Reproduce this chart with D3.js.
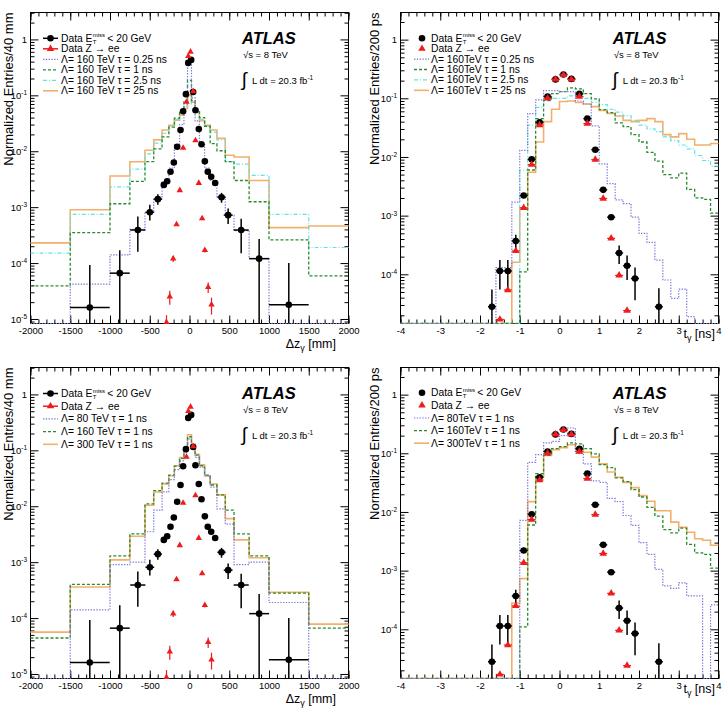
<!DOCTYPE html>
<html>
<head>
<meta charset="utf-8">
<script src="https://cdn.jsdelivr.net/npm/d3@7"></script>
<style>
body { margin: 0; background: #fff; }
svg text { font-family: "Liberation Sans", Arial, Helvetica, sans-serif; }
</style>
</head>
<body>
<script>
// ---- delta z panels (variable bins, mm) ----
var dzEdges = [-2000,-1500,-1000,-750,-560,-450,-345,-260,-190,-125,-70,-25,25,70,125,190,260,345,450,560,750,1000,1500,2000];

var dzTopBlue   = [0, 4.2e-5, 1.4e-4, 4e-4, 8e-4, 1.4e-3, 2.8e-3, 5e-3, 0.013, 0.03, 0.07, 0.4, 0.09, 0.035, 0.014, 0.005, 0.003, 1.5e-3, 7.2e-4, 3.8e-4, 1.2e-4, 0, 0];
var dzTopGreen  = [3.9e-5, 3.5e-4, 1.15e-3, 2.9e-3, 6.5e-3, 0.011, 0.018, 0.027, 0.039, 0.054, 0.076, 0.185, 0.08, 0.055, 0.04, 0.028, 0.0137, 0.0102, 0.0065, 0.003, 1.25e-3, 2.6e-4, 5.9e-5];
var dzTopCyan   = [1.5e-4, 7.4e-4, 2.3e-3, 4.8e-3, 9e-3, 0.014, 0.021, 0.028, 0.037, 0.05, 0.065, 0.12, 0.07, 0.05, 0.037, 0.028, 0.022, 0.016, 0.0065, 0.0059, 0.0037, 7.4e-4, 1.9e-4];
var dzTopOrange = [2.3e-4, 9e-4, 3.6e-3, 6.5e-3, 0.0104, 0.016, 0.024, 0.029, 0.036, 0.044, 0.058, 0.1, 0.075, 0.05, 0.035, 0.029, 0.024, 0.017, 0.0085, 0.0079, 0.003, 4.3e-4, 4.6e-4];

var dzBotBlue   = [0, 1.4e-4, 9e-4, 1e-3, 3.5e-3, 8.5e-3, 0.018, 0.03, 0.045, 0.065, 0.09, 0.16, 0.12, 0.075, 0.05, 0.035, 0.022, 0.009, 4.8e-3, 9e-4, 1e-3, 1.9e-4, 0];
var dzBotGreen  = [4.4e-5, 4e-4, 1.3e-3, 3.2e-3, 0.011, 0.019, 0.026, 0.036, 0.052, 0.072, 0.1, 0.175, 0.125, 0.082, 0.053, 0.036, 0.024, 0.016, 0.0085, 3.2e-3, 1.3e-3, 2.8e-4, 6.6e-5];
var dzBotOrange = [5.6e-5, 3.6e-4, 1.1e-3, 2.9e-3, 0.0104, 0.018, 0.025, 0.035, 0.053, 0.074, 0.105, 0.19, 0.13, 0.085, 0.055, 0.035, 0.025, 0.016, 0.006, 2.5e-3, 1.2e-3, 2.9e-4, 7.8e-5];

// data, Etmiss < 20 GeV
var dzDataX   = [-1254,-877,-650,-499,-398,-323,-281,-239,-197,-155,-113,-80,-45,-16,21,46,75,117,151,193,230,273,323,403,486,650,876,1249];
var dzDataY   = [1.6e-5,6.6e-5,3.9e-4,8.1e-4,1.39e-3,2.5e-3,2.9e-3,4.3e-3,6.3e-3,0.012,0.024,0.052,0.105,0.38,0.43,0.115,0.054,0.025,0.0133,0.0066,0.0043,0.0035,0.0027,1.5e-3,7.2e-4,3.9e-4,1.2e-4,1.8e-5];
var dzDataUp  = [7.6e-5,1.04e-4,2.9e-4,2.9e-4,3.1e-4,2e-4,2e-4,2e-4,2e-4,3e-4,4e-4,6e-4,1e-3,2e-3,2e-3,1e-3,6e-4,4e-4,3e-4,2e-4,2e-4,2e-4,2e-4,3e-4,2.3e-4,2.3e-4,1.5e-4,8.2e-5];
var dzDataDn  = [1.6e-5,6.6e-5,2.3e-4,2.3e-4,2.9e-4,2e-4,2e-4,2e-4,2e-4,3e-4,4e-4,6e-4,1e-3,2e-3,2e-3,1e-3,6e-4,4e-4,3e-4,2e-4,2e-4,2e-4,2e-4,3e-4,2.2e-4,2.4e-4,1.2e-4,1.8e-5];
var dzDataXerr = [250,125,95,55,52,20,20,20,20,20,20,20,20,20,20,20,20,20,20,20,20,20,20,52,55,95,125,250];
// data, Z -> ee
var dzZeeX   = [-289,-248,-205,-163,-122,-80,-38,-15,13,46,75,117,159,193,235,277];
var dzZeeY   = [8.7e-6,2.5e-5,1.2e-4,4.9e-4,2.0e-3,0.0115,0.076,0.5,0.6,0.118,0.0156,0.0027,6.3e-4,1.7e-4,3.7e-5,1.8e-5];
var dzZeeErr = [3e-6,7e-6,1.5e-5,3e-5,8e-5,2e-4,1e-3,5e-3,5e-3,1e-3,2e-4,8e-5,3e-5,1.5e-5,8e-6,6e-6];

// ---- timing panels (200 ps bins from -4 to 4 ns) ----
var tEdges = d3.range(41).map(function(i) { return Math.round((-4 + 0.2 * i) * 10) / 10; });

var tTopBlue   = [0,0,0,0,0,0,0,0,0,0,0,0,1.3e-4,1.3e-4,1.7e-3,0.013,0.055,0.094,0.135,0.135,0.13,0.13,0.09,0.08,0.034,0.0076,3.5e-3,1.85e-3,1.6e-3,9.4e-4,5e-4,3.5e-4,1.75e-4,8e-5,3.9e-5,5.6e-5,1.9e-5,0,0,0];
var tGreen160  = [0,0,0,0,0,0,0,0,0,0,0,0,0,0,0,1.1e-4,6e-3,0.045,0.092,0.12,0.13,0.15,0.145,0.12,0.098,0.064,0.057,0.038,0.033,0.024,0.018,0.012,8.5e-3,5e-3,4.4e-3,5.3e-3,2.8e-3,2e-3,1.9e-3,1.1e-3];
var tTopCyan   = [0,0,0,0,0,0,0,0,0,0,0,0,0,0,0,6e-3,0.035,0.07,0.09,0.1,0.1,0.11,0.11,0.1,0.085,0.078,0.065,0.058,0.05,0.042,0.035,0.03,0.027,0.022,0.019,0.016,0.0137,0.0106,0.0087,0.007];
var tTopOrange = [0,0,0,0,0,0,0,0,0,0,0,0,0,0,1.6e-4,1.3e-3,5.5e-3,0.018,0.04,0.065,0.088,0.09,0.085,0.08,0.072,0.062,0.055,0.05,0.042,0.04,0.042,0.045,0.04,0.024,0.022,0.025,0.02,0.016,0.016,0.017];
var tBotBlue   = [0,0,0,0,0,0,0,0,0,0,0,0,0,0,0,7.2e-3,0.07,0.095,0.15,0.16,0.2,0.27,0.1,0.066,0.034,0.032,0.017,0.015,8.7e-3,5.9e-3,3e-3,1.9e-3,1.05e-3,5.5e-4,5e-4,6.2e-4,3.7e-4,3.7e-4,0,2.6e-4];
var tBotOrange = [0,0,0,0,0,0,0,0,0,0,0,0,0,0,2.8e-4,7.3e-4,0.015,0.04,0.092,0.115,0.125,0.14,0.122,0.104,0.086,0.066,0.048,0.039,0.032,0.026,0.019,0.0152,0.0105,0.0105,0.0067,0.0055,0.0045,0.0035,0.0033,0.0027];

var tDataX  = [-1.7,-1.5,-1.3,-1.1,-0.9,-0.7,-0.5,-0.3,-0.1,0.1,0.3,0.5,0.7,0.9,1.1,1.3,1.5,1.7,1.9,2.5];
var tDataY  = [2.8e-5,1.14e-4,1.14e-4,3.7e-4,2.2e-3,9.1e-3,0.039,0.107,0.21,0.254,0.214,0.119,0.045,0.0133,2.75e-3,9.4e-4,2.3e-4,1.4e-4,8.5e-5,2.8e-5];
var tDataUp = [2.7e-5,6.1e-5,6.1e-5,1.0e-4,2e-4,5e-4,1e-3,2e-3,3e-3,3e-3,3e-3,2e-3,1e-3,5e-4,2e-4,1e-4,8e-5,7e-5,4.5e-5,3e-5];
var tDataDn = [2.8e-5,5.9e-5,5.9e-5,1.2e-4,2e-4,5e-4,1e-3,2e-3,3e-3,3e-3,3e-3,2e-3,1e-3,5e-4,2e-4,1e-4,8e-5,6e-5,4.9e-5,2.8e-5];
var tZeeX   = [-1.5,-1.3,-1.1,-0.9,-0.7,-0.5,-0.3,-0.1,0.1,0.3,0.5,0.7,0.9,1.1,1.3,1.5,1.7];
var tZeeY   = [1.7e-5,5.4e-5,2.5e-4,1.36e-3,7.4e-3,0.035,0.1,0.21,0.25,0.21,0.107,0.037,0.009,1.96e-3,4.1e-4,9.6e-5,2.4e-5];

var styles = {
	blue:   {color: "#7b7bd9", dash: "1.4,1.4", width: 1.2},
	green:  {color: "#2b8a2b", dash: "3,2",     width: 1.3},
	cyan:   {color: "#62e4e4", dash: "4,2,1,2", width: 1.2},
	orange: {color: "#f2b06c", dash: null,      width: 1.6}
};

var panels = [
	{ox: 0, oy: 0, kind: "dz", left: 30.5, right: 348.5, yDomain: [8.3e-6, 3.03],
	 edges: dzEdges, ytitle: "Normalized Entries/40 mm", ytx: 12.5,
	 hists: [{v: dzTopBlue, s: "blue", label: "\u039b= 160 TeV \u03c4 = 0.25 ns"},
	         {v: dzTopGreen, s: "green", label: "\u039b= 160 TeV \u03c4 = 1 ns"},
	         {v: dzTopCyan, s: "cyan", label: "\u039b= 160 TeV \u03c4 = 2.5 ns"},
	         {v: dzTopOrange, s: "orange", label: "\u039b= 160 TeV \u03c4 = 25 ns"}],
	 leg: {x0: 43, x1: 58, mx: 50.5, tx: 61, y0: 38.3, dy: 10.5, lines: true}, atlasX: 242},
	{ox: 362, oy: 0, kind: "t", left: 38.5, right: 356.5, yDomain: [1.45e-5, 2.9],
	 edges: tEdges, ytitle: "Normalized Entries/200 ps", ytx: 16.5,
	 hists: [{v: tTopBlue, s: "blue", label: "\u039b= 160TeV \u03c4 = 0.25 ns"},
	         {v: tGreen160, s: "green", label: "\u039b= 160TeV \u03c4 = 1 ns"},
	         {v: tTopCyan, s: "cyan", label: "\u039b= 160TeV \u03c4 = 2.5 ns"},
	         {v: tTopOrange, s: "orange", label: "\u039b= 160TeV \u03c4 = 25 ns"}],
	 leg: {x0: 52, x1: 67, mx: 60, tx: 69, y0: 38.3, dy: 10.4, lines: false}, atlasX: 250.7},
	{ox: 0, oy: 355, kind: "dz", left: 30.5, right: 348.5, yDomain: [8.3e-6, 3.03],
	 edges: dzEdges, ytitle: "Normalized Entries/40 mm", ytx: 12.5,
	 hists: [{v: dzBotBlue, s: "blue", label: "\u039b= 80 TeV \u03c4 = 1 ns"},
	         {v: dzBotGreen, s: "green", label: "\u039b= 160 TeV \u03c4 = 1 ns"},
	         {v: dzBotOrange, s: "orange", label: "\u039b= 300 TeV \u03c4 = 1 ns"}],
	 leg: {x0: 43, x1: 58, mx: 50.5, tx: 61, y0: 38.5, dy: 12.7, lines: true}, atlasX: 242},
	{ox: 362, oy: 355, kind: "t", left: 38.5, right: 356.5, yDomain: [1.45e-5, 2.9],
	 edges: tEdges, ytitle: "Normalized Entries/200 ps", ytx: 16.5,
	 hists: [{v: tBotBlue, s: "blue", label: "\u039b= 80TeV \u03c4 = 1 ns"},
	         {v: tGreen160, s: "green", label: "\u039b= 160TeV \u03c4 = 1 ns"},
	         {v: tBotOrange, s: "orange", label: "\u039b= 300TeV \u03c4 = 1 ns"}],
	 leg: {x0: 52, x1: 67, mx: 60, tx: 69, y0: 37.8, dy: 12.6, lines: false}, atlasX: 250.7}
];

var svg = d3.select("body").append("svg")
	.attr("width", 724)
	.attr("height", 709);

var RED = "#ee1c1c";

panels.forEach(function(cfg, pi) { drawPanel(cfg, pi); });

function drawPanel(cfg, pi) {
	var top = 12.5, bottom = 323.5;
	var g = svg.append("g").attr("transform", "translate(" + cfg.ox + "," + cfg.oy + ")");

	var x = d3.scaleLinear()
		.domain(cfg.kind == "dz" ? [-2000, 2000] : [-4, 4])
		.range([cfg.left, cfg.right]);
	var y = d3.scaleLog().domain(cfg.yDomain).range([bottom, top]);
	var ymin = cfg.yDomain[0];
	function yc(v) { return y(Math.max(v, ymin)); }

	var major = cfg.kind == "dz" ? d3.range(-2000, 2001, 500) : d3.range(-4, 4.001, 1);
	var minor = cfg.kind == "dz" ? d3.range(-2000, 2001, 100) : d3.range(41).map(function(i) { return -4 + 0.2 * i; });
	var allY = y.ticks();
	var decY = allY.filter(function(v) { var l = Math.log10(v); return Math.abs(l - Math.round(l)) < 1e-6; });
	var minY = allY.filter(function(v) { return decY.indexOf(v) < 0; });

	// frame
	g.append("rect")
		.attr("x", cfg.left).attr("y", top)
		.attr("width", cfg.right - cfg.left).attr("height", bottom - top)
		.attr("fill", "none").attr("stroke", "#000").attr("stroke-width", 1);

	function axisG(axis, tx, ty) {
		var a = g.append("g").attr("transform", "translate(" + tx + "," + ty + ")").call(axis);
		a.select(".domain").remove();
		a.attr("font-family", null).attr("font-size", 9.5);
		a.selectAll(".tick line").attr("stroke", "#000");
		return a;
	}

	// bottom / top ticks
	axisG(d3.axisBottom(x).tickValues(minor).tickSizeInner(-4).tickSizeOuter(0).tickFormat(""), 0, bottom);
	axisG(d3.axisBottom(x).tickValues(major).tickSizeInner(-8).tickSizeOuter(0).tickPadding(3.5)
		.tickFormat(function(d) { return String(d); }), 0, bottom)
		.selectAll("text").attr("fill", "#000");
	axisG(d3.axisTop(x).tickValues(minor).tickSizeInner(-4).tickSizeOuter(0).tickFormat(""), 0, top);
	axisG(d3.axisTop(x).tickValues(major).tickSizeInner(-8).tickSizeOuter(0).tickFormat(""), 0, top);

	// left / right ticks
	axisG(d3.axisLeft(y).tickValues(minY).tickSizeInner(-4).tickSizeOuter(0).tickFormat(""), cfg.left, 0);
	var ly = axisG(d3.axisLeft(y).tickValues(decY).tickSizeInner(-8).tickSizeOuter(0).tickPadding(3.5)
		.tickFormat(function() { return ""; }), cfg.left, 0);
	ly.selectAll(".tick text").attr("fill", "#000").each(function(d) {
		var k = Math.round(Math.log10(d));
		var t = d3.select(this);
		if (k === 0) { t.text("1"); return; }
		t.append("tspan").text("10");
		t.append("tspan").attr("dy", "-0.55em").attr("font-size", 6.5).text(String(k));
	});
	axisG(d3.axisRight(y).tickValues(minY).tickSizeInner(-4).tickSizeOuter(0).tickFormat(""), cfg.right, 0);
	axisG(d3.axisRight(y).tickValues(decY).tickSizeInner(-8).tickSizeOuter(0).tickFormat(""), cfg.right, 0);

	// clip
	var cid = "clip" + pi;
	g.append("clipPath").attr("id", cid).append("rect")
		.attr("x", cfg.left - 0.5).attr("y", top - 0.5)
		.attr("width", cfg.right - cfg.left + 1).attr("height", bottom - top + 1);
	var plot = g.append("g").attr("clip-path", "url(#" + cid + ")");

	// histograms
	var line = d3.line()
		.x(function(d) { return x(d[0]); })
		.y(function(d) { return yc(d[1]); })
		.curve(d3.curveStepAfter);
	cfg.hists.slice().reverse().forEach(function(h) {
		var pts = cfg.edges.slice(0, -1).map(function(e, i) { return [e, h.v[i]]; });
		pts.push([cfg.edges[cfg.edges.length - 1], h.v[h.v.length - 1]]);
		var st = styles[h.s];
		plot.append("path")
			.attr("d", line(pts))
			.attr("fill", "none")
			.attr("stroke", st.color)
			.attr("stroke-width", st.width)
			.attr("stroke-dasharray", st.dash);
	});

	// data points
	var dx, dy, up, dn, xe, zx, zy, ze;
	if (cfg.kind == "dz") {
		dx = dzDataX; dy = dzDataY; up = dzDataUp; dn = dzDataDn; xe = dzDataXerr;
		zx = dzZeeX; zy = dzZeeY; ze = dzZeeErr;
	} else {
		dx = tDataX; dy = tDataY; up = tDataUp; dn = tDataDn;
		xe = tDataX.map(function() { return 0.1; });
		zx = tZeeX; zy = tZeeY; ze = null;
	}
	var pts = dx.map(function(v, i) { return {x: v, y: dy[i], up: up[i], dn: dn[i], xe: xe[i]}; });

	plot.selectAll(".ev").data(pts).enter().append("line")
		.attr("x1", function(d) { return x(d.x); })
		.attr("x2", function(d) { return x(d.x); })
		.attr("y1", function(d) { return yc(d.y + d.up); })
		.attr("y2", function(d) { return yc(d.y - d.dn); })
		.attr("stroke", "#000").attr("stroke-width", 1.5);
	plot.selectAll(".eh").data(pts).enter().append("line")
		.attr("x1", function(d) { return x(d.x - d.xe); })
		.attr("x2", function(d) { return x(d.x + d.xe); })
		.attr("y1", function(d) { return y(d.y); })
		.attr("y2", function(d) { return y(d.y); })
		.attr("stroke", "#000").attr("stroke-width", 1.5);
	plot.selectAll(".dot").data(pts).enter().append("circle")
		.attr("cx", function(d) { return x(d.x); })
		.attr("cy", function(d) { return y(d.y); })
		.attr("r", 3.3).attr("fill", "#000");

	var zpts = zx.map(function(v, i) { return {x: v, y: zy[i], e: ze ? ze[i] : 0}; });
	if (ze) {
		plot.selectAll(".zv").data(zpts).enter().append("line")
			.attr("x1", function(d) { return x(d.x); })
			.attr("x2", function(d) { return x(d.x); })
			.attr("y1", function(d) { return yc(d.y + d.e); })
			.attr("y2", function(d) { return yc(d.y - d.e); })
			.attr("stroke", RED).attr("stroke-width", 1.2);
	} else {
		plot.selectAll(".zh").data(zpts).enter().append("line")
			.attr("x1", function(d) { return x(d.x - 0.1); })
			.attr("x2", function(d) { return x(d.x + 0.1); })
			.attr("y1", function(d) { return y(d.y); })
			.attr("y2", function(d) { return y(d.y); })
			.attr("stroke", RED).attr("stroke-width", 1.2);
	}
	var tri = d3.symbol().type(d3.symbolTriangle).size(cfg.kind == "dz" ? 18 : 24);
	plot.selectAll(".tri").data(zpts).enter().append("path")
		.attr("d", tri)
		.attr("transform", function(d) { return "translate(" + x(d.x) + "," + y(d.y) + ")"; })
		.attr("fill", RED);

	// axis titles
	var xt = g.append("text")
		.attr("text-anchor", "end")
		.attr("font-size", 12.5)
		.attr("x", cfg.kind == "dz" ? 336 : 353)
		.attr("y", cfg.kind == "dz" ? 348 : 338);
	xt.append("tspan").text(cfg.kind == "dz" ? "\u0394z" : "t");
	xt.append("tspan").attr("font-size", 9).attr("dy", 3).text("\u03b3");
	xt.append("tspan").attr("dy", -3).text(cfg.kind == "dz" ? " [mm]" : " [ns]");

	g.append("text")
		.attr("transform", "translate(" + cfg.ytx + "," + top + ") rotate(-90)")
		.attr("text-anchor", "end")
		.attr("font-size", 13)
		.text(cfg.ytitle);

	// ATLAS label
	var ax = cfg.atlasX;
	g.append("text").attr("x", ax).attr("y", 44)
		.attr("font-size", 16.5).attr("font-weight", "bold").attr("font-style", "italic")
		.text("ATLAS");
	g.append("text").attr("x", ax + 1).attr("y", 58).attr("font-size", 9.5).text("\u221as = 8 TeV");
	g.append("text").attr("x", ax - 0.5).attr("y", 86).attr("font-size", 19).text("\u222b");
	var lt = g.append("text").attr("x", ax + 10).attr("y", 83.5).attr("font-size", 9.5);
	lt.append("tspan").text("L dt = 20.3 fb");
	lt.append("tspan").attr("dy", -4).attr("font-size", 6.5).text("-1");

	drawLegend(g, cfg);
}

function drawLegend(g, cfg) {
	var L = cfg.leg;
	var fs = 10.3;
	var entries = [{kind: "data"}, {kind: "zee"}].concat(cfg.hists);
	entries.forEach(function(e, i) {
		var cy = L.y0 + i * L.dy;
		var ty = cy + 3.5;
		if (e.kind == "data") {
			if (L.lines) g.append("line").attr("x1", L.x0).attr("x2", L.x1).attr("y1", cy).attr("y2", cy)
				.attr("stroke", "#000").attr("stroke-width", 1.5);
			g.append("circle").attr("cx", L.mx).attr("cy", cy).attr("r", 3.3).attr("fill", "#000");
			var t1 = g.append("text").attr("x", L.tx).attr("y", ty).attr("font-size", fs).text("Data E");
			var w = t1.node().getComputedTextLength();
			var sup = g.append("text").attr("x", L.tx + w + 0.3).attr("y", ty - 4.5).attr("font-size", 6).text("miss");
			g.append("text").attr("x", L.tx + w + 0.3).attr("y", ty + 1.8).attr("font-size", 6).text("T");
			var w2 = sup.node().getComputedTextLength();
			g.append("text").attr("x", L.tx + w + w2 + 2.5).attr("y", ty).attr("font-size", fs).text("< 20 GeV");
		} else if (e.kind == "zee") {
			if (L.lines) g.append("line").attr("x1", L.x0).attr("x2", L.x1).attr("y1", cy).attr("y2", cy)
				.attr("stroke", RED).attr("stroke-width", 1.5);
			g.append("path").attr("d", d3.symbol().type(d3.symbolTriangle).size(24))
				.attr("transform", "translate(" + L.mx + "," + cy + ")").attr("fill", RED);
			g.append("text").attr("x", L.tx).attr("y", ty).attr("font-size", fs).text("Data Z \u2192 ee");
		} else {
			var st = styles[e.s];
			g.append("line").attr("x1", L.x0).attr("x2", L.x1).attr("y1", cy).attr("y2", cy)
				.attr("stroke", st.color).attr("stroke-width", st.width).attr("stroke-dasharray", st.dash);
			g.append("text").attr("x", L.tx).attr("y", ty).attr("font-size", fs).text(e.label);
		}
	});
}
</script>
</body>
</html>
